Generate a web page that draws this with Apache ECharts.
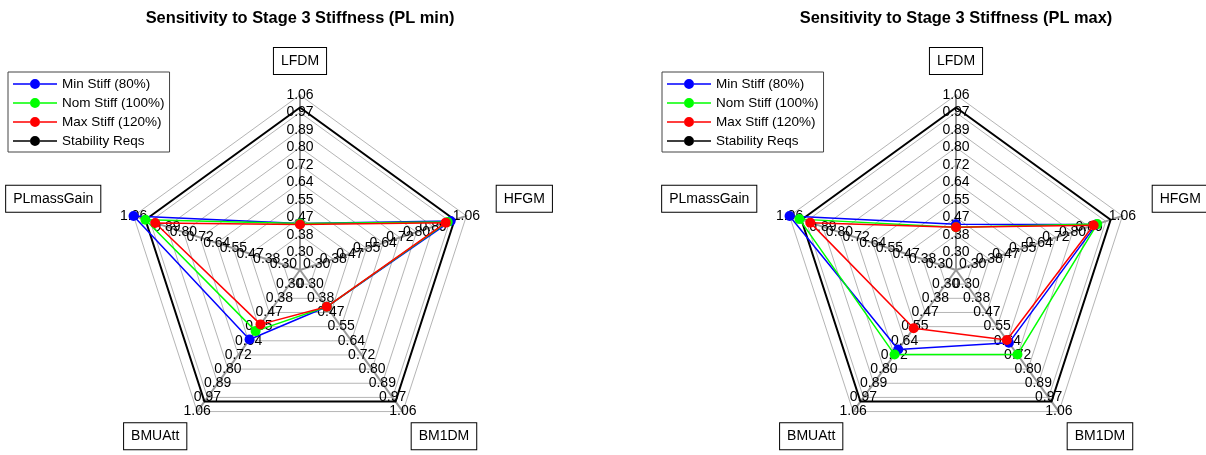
<!DOCTYPE html>
<html>
<head>
<meta charset="utf-8">
<script src="https://cdn.jsdelivr.net/npm/echarts@6/dist/echarts.min.js"></script>
<style>
html,body{margin:0;padding:0;background:#fff;}
#chart{width:1206px;height:455px;}
</style>
</head>
<body>
<div id="chart"></div>
<script>
// ---- data ----
const axisNames = ['LFDM', 'PLmassGain', 'BMUAtt', 'BM1DM', 'HFGM']; // counter-clockwise from top
const tickLabels = ['0.30', '0.38', '0.47', '0.55', '0.64', '0.72', '0.80', '0.89', '0.97', '1.06'];
const axisLow = 0.30;
const axisHigh = 1.06;
const seriesNames = ['Min Stiff (80%)', 'Nom Stiff (100%)', 'Max Stiff (120%)', 'Stability Reqs'];
const titles = ['Sensitivity to Stage 3 Stiffness (PL min)', 'Sensitivity to Stage 3 Stiffness (PL max)'];

// PL min (left)
const minStiffPLmin = [0.44, 1.06, 0.63, 0.435, 0.98];
const nomStiffPLmin = [0.44, 1.00, 0.58, 0.435, 0.965];
const maxStiffPLmin = [0.435, 0.95, 0.54, 0.435, 0.955];
// PL max (right)
const minStiffPLmax = [0.436, 1.06, 0.69, 0.65, 0.928];
const nomStiffPLmax = [0.422, 1.01, 0.72, 0.72, 0.932];
const maxStiffPLmax = [0.422, 0.955, 0.563, 0.633, 0.914];
// Stability requirements
const stabilityReqs = [1.0, 1.0, 1.0, 1.0, 1.0];

// ---- styling ----
const FONT = 'Liberation Sans, Arial, Helvetica, sans-serif';
const step = (axisHigh - axisLow) / (tickLabels.length - 1);
const axisMin = axisLow - step; // one-ring offset at the center
const colors = ['#0000ff', '#00ff00', '#ff0000', '#000000'];
const legendIconCircle = 'path://M0,4.25H17V5.75H0Z M27,4.25H44V5.75H27Z M17,5A5,5 0 1,1 27,5A5,5 0 1,1 17,5Z';

function labelFormatter(v) {
  const i = Math.round((v - axisMin) / step);
  return i <= 0 ? '' : (tickLabels[i - 1] || '');
}
function nameFormatter(name) {
  switch (name) {
    case 'LFDM': return '{box|' + name + '}\n{vt|}';
    case 'HFGM': return '{padL|}{box|' + name + '}\n{vs|}';
    case 'PLmassGain': return '{box|' + name + '}{padR|}\n{vs|}';
    case 'BM1DM': return '{vb|}\n{box|' + name + '}';
    case 'BMUAtt': return '{vb|}\n{box|' + name + '}{padR2|}';
    default: return '{box|' + name + '}';
  }
}

function makeRadar(cx) {
  return {
    center: [cx, 270],
    radius: 175,
    startAngle: 90,
    splitNumber: tickLabels.length,
    shape: 'polygon',
    indicator: axisNames.map(n => ({ name: n, min: axisMin, max: axisHigh, nameMoveOverlap: false })),
    nameGap: 15,
    axisName: {
      formatter: nameFormatter,
      rich: {
        box: { color: '#000', fontSize: 14, fontFamily: FONT, borderColor: '#000', borderWidth: 1,
               padding: [6, 7, 6, 7], backgroundColor: '#fff' },
        padL: { width: 16 },
        padR: { width: 19 },
        padR2: { width: 2 },
        vs: { height: 25 },
        vt: { height: 6 },
        vb: { height: 25 }
      }
    },
    axisLine: { show: true, lineStyle: { color: '#999', width: 2 } },
    splitLine: { show: true, lineStyle: { color: '#b5b5b5', width: 1 } },
    splitArea: { show: false },
    axisTick: { show: false },
    axisLabel: {
      show: true, margin: 0, align: 'center', verticalAlign: 'middle',
      color: '#000', fontSize: 14, fontFamily: FONT, formatter: labelFormatter,
      showMaxLabel: true, showMinLabel: true, hideOverlap: false
    }
  };
}

function makeItems(vals) {
  const items = [{
    name: seriesNames[3], value: stabilityReqs, symbol: 'none',
    lineStyle: { color: colors[3], width: 2 }, itemStyle: { color: colors[3] }
  }];
  vals.forEach((v, i) => items.push({
    name: seriesNames[i], value: v, symbol: 'circle', symbolSize: 10,
    lineStyle: { color: colors[i], width: 1.5 }, itemStyle: { color: colors[i] }
  }));
  return items;
}

function makeLegend(left) {
  return {
    orient: 'vertical', left: left, top: 72,
    padding: [5, 5, 4, 5], itemGap: 5, itemWidth: 44, itemHeight: 10,
    backgroundColor: '#fff', borderColor: '#444', borderWidth: 1,
    selectedMode: false,
    textStyle: { color: '#000', fontSize: 13.5, lineHeight: 13, fontFamily: FONT },
    data: seriesNames.map(n => ({ name: n, icon: legendIconCircle }))
  };
}

const chart = echarts.init(document.getElementById('chart'), null, { renderer: 'canvas' });
chart.setOption({
  animation: false,
  backgroundColor: '#fff',
  title: [
    { text: titles[0], left: 295, top: 5, textAlign: 'center',
      textStyle: { fontSize: 16.4, fontWeight: 'bold', color: '#000', fontFamily: FONT } },
    { text: titles[1], left: 951, top: 5, textAlign: 'center',
      textStyle: { fontSize: 16.4, fontWeight: 'bold', color: '#000', fontFamily: FONT } }
  ],
  legend: [makeLegend(8), makeLegend(662)],
  radar: [makeRadar(300), makeRadar(956)],
  series: [
    { type: 'radar', radarIndex: 0, silent: true, emphasis: { disabled: true },
      data: makeItems([minStiffPLmin, nomStiffPLmin, maxStiffPLmin]) },
    { type: 'radar', radarIndex: 1, silent: true, emphasis: { disabled: true },
      data: makeItems([minStiffPLmax, nomStiffPLmax, maxStiffPLmax]) }
  ]
});
</script>
</body>
</html>
